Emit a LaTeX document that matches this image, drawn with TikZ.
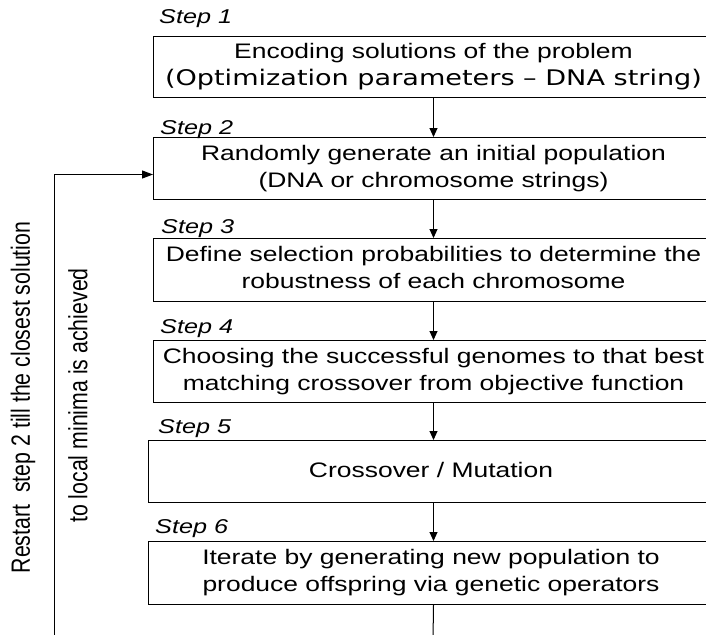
\documentclass[tikz,border=0pt]{standalone}
\usepackage{fontspec}
\setmainfont{Liberation Sans}
\newfontfamily\verd{DejaVu Sans}
\usetikzlibrary{arrows.meta}
\newcommand\wide[1]{\scalebox{1.26}[1]{#1}}
\newcommand\tall[1]{\scalebox{1}[1.24]{#1}}
\tikzset{
  box/.style={draw, line width=1pt, inner sep=0pt, anchor=north west,
    font=\fontsize{21}{27}\selectfont},
  steplbl/.style={anchor=base west, inner sep=0pt, font=\fontsize{20}{24}\selectfont\itshape},
  vlabel/.style={rotate=90, inner sep=0pt, font=\fontsize{21.3}{27}\selectfont},
  arr/.style={line width=1pt, -{Triangle[length=9pt,width=8pt]}},
  arrL/.style={line width=1pt, -{Triangle[length=11pt,width=8pt]}},
  ln/.style={line width=1pt}
}
\begin{document}
\begin{tikzpicture}[x=1pt,y=-1pt]
\useasboundingbox (0,0) rectangle (706,634);
\clip (0,0) rectangle (706,634);
\fill[white] (0,0) rectangle (706,634);
% boxes
\node[box, minimum width=560pt, minimum height=61pt] (b1) at (153,36)
  {\wide{\begin{tabular}{@{}c@{}}Encoding solutions of the problem\\{\verd\fontsize{21.5}{27}\selectfont (Optimization parameters – DNA string)}\end{tabular}}};
\node[box, minimum width=560pt, minimum height=62pt] (b2) at (153,137)
  {\wide{\begin{tabular}{@{}c@{}}Randomly generate an initial population\\(DNA or chromosome strings)\end{tabular}}};
\node[box, minimum width=560pt, minimum height=63pt] (b3) at (153,238)
  {\wide{\begin{tabular}{@{}c@{}}Define selection probabilities to determine the\\robustness of each chromosome\end{tabular}}};
\node[box, minimum width=560pt, minimum height=62pt] (b4) at (153,340)
  {\wide{\begin{tabular}{@{}c@{}}Choosing the successful genomes to that best\\matching crossover from objective function\end{tabular}}};
\node[box, minimum width=565pt, minimum height=62pt] (b5) at (148,440)
  {\raisebox{3pt}{\wide{Crossover / Mutation}}};
\node[box, minimum width=565pt, minimum height=63pt] (b6) at (148,541)
  {\wide{\begin{tabular}{@{}c@{}}Iterate by generating new population to\\produce offspring via genetic operators\end{tabular}}};
% step labels
\node[steplbl] (s1) at (159,24) {\wide{Step 1}};
\node[steplbl] (s2) at (160,134) {\wide{Step 2}};
\node[steplbl] (s3) at (161,233) {\wide{Step 3}};
\node[steplbl] (s4) at (160,333) {\wide{Step 4}};
\node[steplbl] (s5) at (158,433) {\wide{Step 5}};
\node[steplbl] (s6) at (155,533) {\wide{Step 6}};
% vertical labels
\node[vlabel] (v1) at (23,397.5) {\tall{Restart\ \ step 2 till the closest solution}};
\node[vlabel] (v2) at (78,395.5) {\tall{to local minima is achieved}};
% connectors
\draw[arr] (b1.south) -- (b2.north);
\draw[arr] (b2.south) -- (b3.north);
\draw[arr] (b3.south) -- (b4.north);
\draw[arr] (b4.south) -- (b5.north -| b4.south);
\draw[arr] (b5.south -| b4.south) -- (b6.north -| b4.south);
\coordinate (endc) at (433,640);
\draw[ln] (b6.south -| b4.south) -- (endc);
\coordinate (loopc) at (54,640);
\draw[arrL] (loopc) |- ([yshift=-6pt]b2.west);
\end{tikzpicture}
\end{document}
